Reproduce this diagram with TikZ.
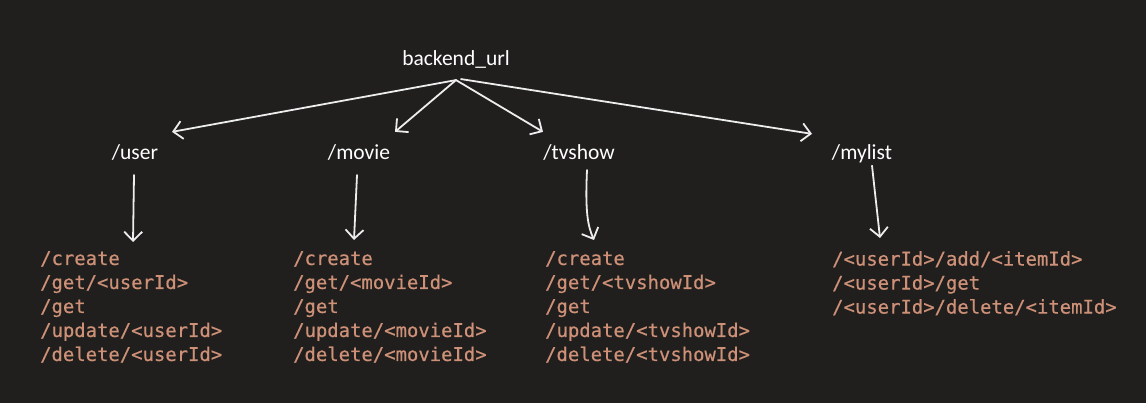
\documentclass[tikz,border=0pt]{standalone}
\usepackage{fontspec}
\setmainfont{Carlito}
\newfontfamily\codefont[FakeBold=0.4]{DejaVu Sans Mono}
\usetikzlibrary{arrows.meta, positioning, calc}
\definecolor{bgdark}{HTML}{201F1E}
\definecolor{routestr}{HTML}{CE9178}
\definecolor{penwhite}{HTML}{EDEDED}
\tikzset{
	>={Straight Barb[length=9pt,width=18pt]},
	pen/.style={->, draw=penwhite, line width=1.8pt, line cap=round, line join=round},
	route/.style={text=white, font=\fontsize{21.5}{26}\selectfont, inner sep=0pt, anchor=base},
	endpoints/.style={text=routestr, font=\codefont\fontsize{18.9}{24}\selectfont, align=left, inner sep=0pt, anchor=north west},
}
\begin{document}
\begin{tikzpicture}[x=1pt,y=-1pt]
	\useasboundingbox (0,0) rectangle (1146,403);
	\fill[bgdark] (0,0) rectangle (1146,403);

	% route names
	\node [route] (root) at (456,66) {backend\_url};
	\node [route] (user) at (135,160) {/user};
	\node [route] (movie) at (359,160) {/movie};
	\node [route] (tvshow) at (579,160) {/tvshow};
	\node [route] (mylist) at (862,160) {/mylist};

	% endpoints
	\node [endpoints] (userlist) at (40,251) {/create\\/get/<userId>\\/get\\/update/<userId>\\/delete/<userId>};
	\node [endpoints] (movielist) at (293,251) {/create\\/get/<movieId>\\/get\\/update/<movieId>\\/delete/<movieId>};
	\node [endpoints] (tvshowlist) at (545,251) {/create\\/get/<tvshowId>\\/get\\/update/<tvshowId>\\/delete/<tvshowId>};
	\node [endpoints] (mylistlist) at (832,251) {/<userId>/add/<itemId>\\/<userId>/get\\/<userId>/delete/<itemId>};

	\coordinate (fork) at ($(root.south)+(0,11)$);

	\draw [pen] (fork) -- ($(user.north)+(37,-13)$);
	\draw [pen] (fork) -- ($(movie.north)+(36,-13)$);
	\draw [pen] (fork) -- ($(tvshow.north)+(-36,-13)$);
	\draw [pen] ($(fork)+(5,-1)$) -- ($(mylist.north)+(-50,-11)$);

	\draw [pen] ($(user.south)+(-1,14)$) -- ($(userlist.north west)+(93,-9)$);
	\draw [pen] ($(movie.south)+(-2,14)$) -- ($(movielist.north west)+(61,-11)$);
	\draw [pen] ($(tvshow.south)+(8,9)$) .. controls ($(tvshow.south)+(6,52)$) and ($(tvshow.south)+(9,65)$) .. ($(tvshowlist.north west)+(49,-11)$);
	\draw [pen] ($(mylist.south)+(10,2)$) -- ($(mylistlist.north west)+(48,-13)$);
\end{tikzpicture}
\end{document}
